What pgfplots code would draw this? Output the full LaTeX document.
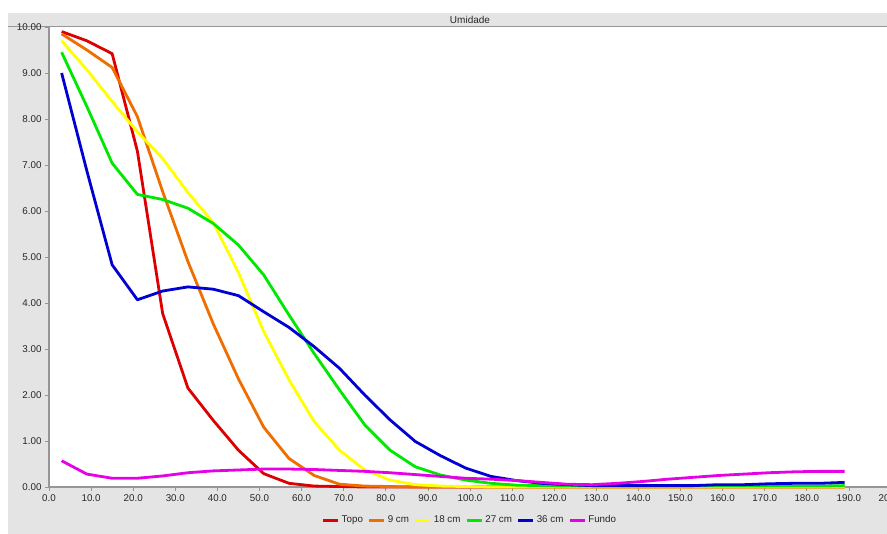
\documentclass[border=0pt]{standalone}
\usepackage{pgfplots}
\usepackage{pgfplotstable}
\pgfplotsset{compat=1.18}
\usepackage{fontspec}
\setmainfont{Liberation Sans}
\definecolor{cTopo}{RGB}{222,0,0}
\definecolor{cNove}{RGB}{240,110,0}
\definecolor{cDez}{RGB}{255,255,0}
\definecolor{cVinte}{RGB}{0,232,0}
\definecolor{cTrinta}{RGB}{0,0,210}
\definecolor{cFundo}{RGB}{230,0,230}
\definecolor{panel}{RGB}{228,228,228}
\definecolor{axgray}{RGB}{150,150,150}
\pgfplotstableread{
x topo nove dezoito vinte trinta fundo
3 9.90 9.85 9.70 9.45 9.00 0.57
9 9.70 9.50 9.07 8.27 6.87 0.28
15 9.42 9.12 8.38 7.04 4.83 0.19
21 7.30 8.05 7.72 6.36 4.07 0.19
27 3.77 6.42 7.14 6.25 4.26 0.24
33 2.15 4.90 6.40 6.06 4.35 0.31
39 1.45 3.55 5.75 5.73 4.30 0.35
45 0.80 2.35 4.66 5.26 4.16 0.37
51 0.29 1.30 3.38 4.61 3.81 0.39
57 0.08 0.62 2.33 3.74 3.47 0.39
63 0.02 0.25 1.42 2.90 3.05 0.38
69 0.01 0.06 0.80 2.11 2.58 0.36
75 0.00 0.02 0.37 1.35 2.00 0.34
81 0.00 0.01 0.15 0.80 1.46 0.31
87 0.00 0.00 0.05 0.44 0.99 0.27
93 0.00 0.00 0.02 0.26 0.68 0.23
99 0.00 0.00 0.01 0.15 0.41 0.19
105 0.00 0.00 0.00 0.08 0.23 0.17
111 0.00 0.00 0.00 0.04 0.14 0.14
117 0.00 0.00 0.00 0.03 0.08 0.10
123 0.00 0.00 0.00 0.02 0.05 0.06
129 0.00 0.00 0.00 0.02 0.03 0.05
135 0.00 0.00 0.00 0.02 0.03 0.08
141 0.00 0.00 0.00 0.02 0.03 0.12
147 0.00 0.00 0.00 0.02 0.03 0.17
153 0.00 0.00 0.00 0.02 0.03 0.21
159 0.00 0.00 0.00 0.02 0.05 0.25
165 0.00 0.00 0.00 0.02 0.05 0.28
171 0.00 0.00 0.00 0.02 0.07 0.31
177 0.00 0.00 0.00 0.02 0.08 0.33
183 0.00 0.00 0.00 0.02 0.08 0.34
189 0.00 0.00 0.00 0.03 0.10 0.34
}\datatable
\begin{document}
\begin{tikzpicture}[x=1pt,y=1pt]
\useasboundingbox (-49,-47) rectangle (838,487);
\fill[white] (-49,-47) rectangle (838,487);
\fill[panel] (-41,-47) rectangle (838,474);
\fill[white] (0,0) rectangle (838,460);
\draw[axgray, line width=1.3pt] (-41,460.6) -- (838,460.6);
\node[font=\fontsize{10}{11}\selectfont, text=black!85] at (421,467.3) {Umidade};
\begin{axis}[
  scale only axis, width=842pt, height=460pt,
  xmin=0, xmax=200, ymin=0, ymax=10,
  clip=false,
  axis lines=left,
  axis line style={-, draw=axgray, line width=1.5pt},
  xtick={0,10,...,200}, ytick={0,1,...,10},
  tick align=outside, major tick length=4pt,
  tick style={draw=axgray, line width=0.8pt},
  x tick label style={/pgf/number format/.cd, fixed, fixed zerofill, precision=1, /tikz/.cd, font=\fontsize{9.8}{10}\selectfont, text=black!85},
  y tick label style={/pgf/number format/.cd, fixed, fixed zerofill, precision=2, /tikz/.cd, font=\fontsize{9.8}{10}\selectfont, text=black!85},
  /pgf/number format/assume math mode=true,
  legend columns=6,
  legend style={draw=none, fill=none, at={(0.5,-0.072)}, anchor=center,
    font=\fontsize{9.8}{10}\selectfont, text=black!85,
    /tikz/every even column/.append style={column sep=3pt}},
  legend image code/.code={\draw[#1, line width=2.8pt] (0pt,0pt) -- (15pt,0pt);},
  legend cell align=left,
  every axis plot/.append style={line width=2.8pt, line join=round},
]
\addplot[cTopo] table[x=x,y=topo]{\datatable};
\addlegendentry{Topo}
\addplot[cNove] table[x=x,y=nove]{\datatable};
\addlegendentry{9 cm}
\addplot[cDez] table[x=x,y=dezoito]{\datatable};
\addlegendentry{18 cm}
\addplot[cVinte] table[x=x,y=vinte]{\datatable};
\addlegendentry{27 cm}
\addplot[cTrinta] table[x=x,y=trinta]{\datatable};
\addlegendentry{36 cm}
\addplot[cFundo] table[x=x,y=fundo]{\datatable};
\addlegendentry{Fundo}
\end{axis}
\end{tikzpicture}
\end{document}
